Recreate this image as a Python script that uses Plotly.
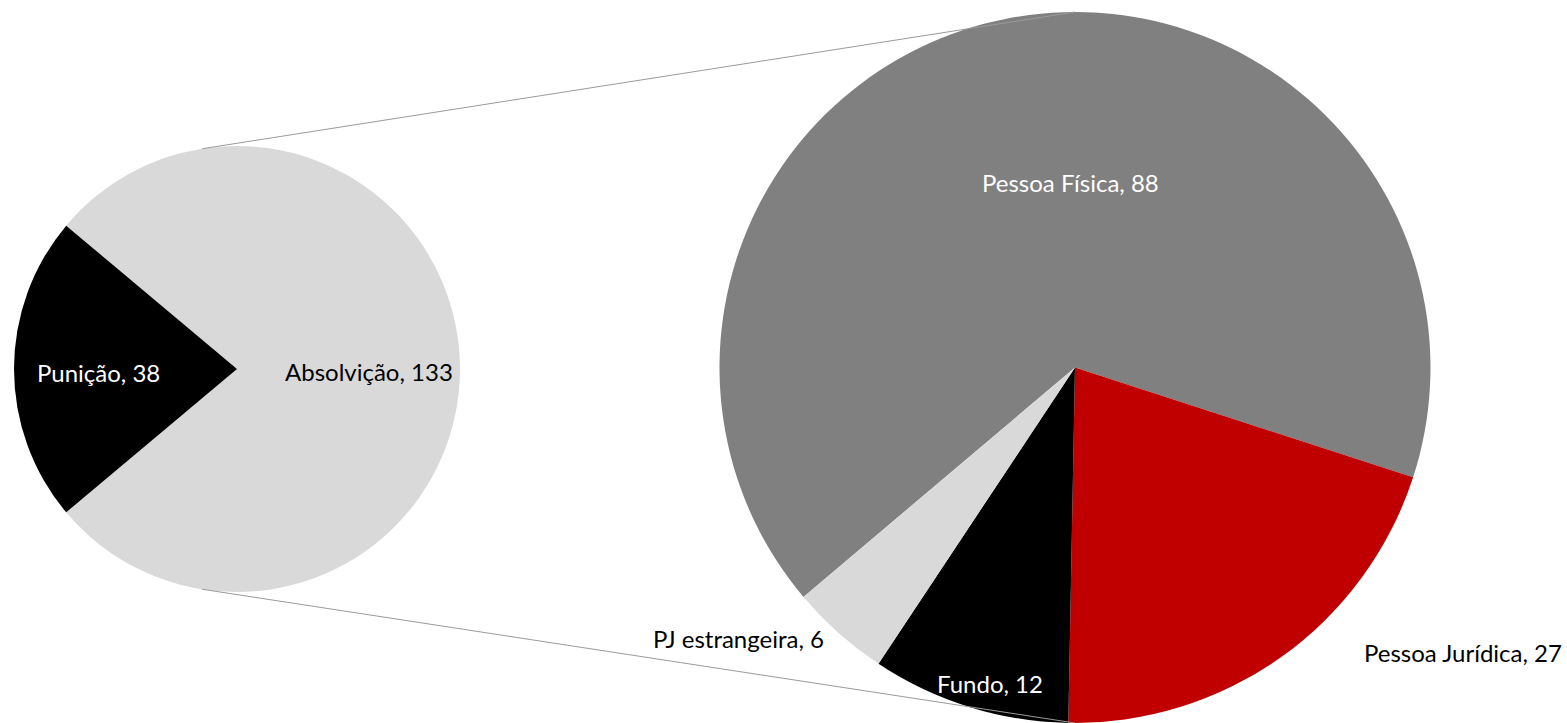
import math
import plotly.graph_objects as go

# main pie
main_labels = ["Absolvição", "Punição"]
main_values = [133, 38]
main_colors = ["#d9d9d9", "#000000"]

# breakdown of "Absolvição"
sub_labels = ["Pessoa Física", "Pessoa Jurídica", "Fundo", "PJ estrangeira"]
sub_values = [88, 27, 12, 6]
sub_colors = ["#808080", "#c00000", "#000000", "#d9d9d9"]

W, H = 1567, 723
TOP = 12  # top margin, px
FONT = "Lato, Carlito, Calibri, sans-serif"


def px(x, y):
    """pixel position -> paper coords"""
    return x / W, (H - y) / (H - TOP)


# geometry of the two pies (px)
main_c, main_r = (237, 369), 223
sub_c, sub_r = (1075, TOP + (H - TOP) / 2), (H - TOP) / 2

main_x = [(main_c[0] - main_r) / W, (main_c[0] + main_r) / W]
_, yc = px(*main_c)
main_y = [yc - 0.32, yc + 0.32]
sub_x = [(sub_c[0] - sub_r - 2) / W, (sub_c[0] + sub_r + 2) / W]

fig = go.Figure()
fig.add_trace(go.Pie(
    labels=main_labels, values=main_values, sort=False,
    direction="clockwise", rotation=-50,
    marker=dict(colors=main_colors, line=dict(width=0)),
    textinfo="none", hoverinfo="label+value",
    domain=dict(x=main_x, y=main_y), showlegend=False,
))
fig.add_trace(go.Pie(
    labels=sub_labels, values=sub_values, sort=False,
    direction="clockwise", rotation=-130.2,
    marker=dict(colors=sub_colors, line=dict(width=0)),
    textinfo="none", hoverinfo="label+value",
    domain=dict(x=sub_x, y=[0, 1]), showlegend=False,
))

# connector lines between the pies
for sgn in (1, -1):
    a = math.radians(99 * sgn)
    x0 = main_c[0] + main_r * math.cos(a)
    y0 = main_c[1] - main_r * math.sin(a)
    x1, y1 = sub_c[0], sub_c[1] - sgn * sub_r
    p0, p1 = px(x0, y0), px(x1, y1)
    fig.add_shape(type="line", xref="paper", yref="paper",
                  x0=p0[0], y0=p0[1], x1=p1[0], y1=p1[1],
                  line=dict(color="#9a9a9a", width=1))

# data labels
labels = [
    ("Absolvição, 133", 369, 371, "black"),
    ("Punição, 38", 98, 372, "white"),
    ("Pessoa Física, 88", 1070, 183, "white"),
    ("Pessoa Jurídica, 27", 1463, 652, "black"),
    ("Fundo, 12", 990, 683, "white"),
    ("PJ estrangeira, 6", 738, 638, "black"),
]
for txt, lx, ly, col in labels:
    ax, ay = px(lx, ly)
    fig.add_annotation(text=txt, x=ax, y=ay, xref="paper", yref="paper",
                       showarrow=False, xanchor="center", yanchor="middle",
                       font=dict(family=FONT, size=24, color=col))

fig.update_layout(
    width=W, height=H,
    margin=dict(l=0, r=0, t=TOP, b=0),
    paper_bgcolor="white", plot_bgcolor="white",
)
# page body has a default 8px margin; drop it so the chart sits at 0,0
fig.write_html("out.html", config={"displayModeBar": False},
               post_script="document.body.style.margin='0';")
